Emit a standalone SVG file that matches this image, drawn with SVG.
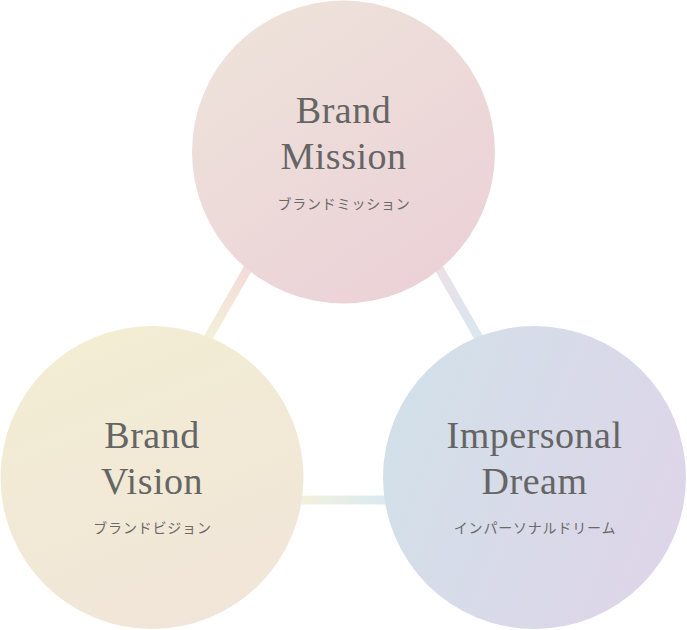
<svg xmlns="http://www.w3.org/2000/svg" width="687" height="630" viewBox="0 0 687 630">
  <defs>
    <linearGradient id="gMission" x1="0.15" y1="0" x2="0.85" y2="1">
      <stop offset="0" stop-color="#EEE3DA"/>
      <stop offset="1" stop-color="#EBD0D7"/>
    </linearGradient>
    <linearGradient id="gVision" x1="0.3" y1="0" x2="0.7" y2="1">
      <stop offset="0" stop-color="#F2EDD3"/>
      <stop offset="1" stop-color="#F1E5D9"/>
    </linearGradient>
    <linearGradient id="gDream" x1="0" y1="0.3" x2="1" y2="0.7">
      <stop offset="0" stop-color="#D2E0E9"/>
      <stop offset="1" stop-color="#DED5E8"/>
    </linearGradient>
    <linearGradient id="lLeft" gradientUnits="userSpaceOnUse" x1="252" y1="265" x2="208" y2="338">
      <stop offset="0" stop-color="#F4DAD8"/>
      <stop offset="1" stop-color="#F3F0D8"/>
    </linearGradient>
    <linearGradient id="lRight" gradientUnits="userSpaceOnUse" x1="435" y1="265" x2="480" y2="338">
      <stop offset="0" stop-color="#EBE0E6"/>
      <stop offset="1" stop-color="#DAE7EF"/>
    </linearGradient>
    <linearGradient id="lBottom" gradientUnits="userSpaceOnUse" x1="300" y1="0" x2="386" y2="0">
      <stop offset="0" stop-color="#F3F1DE"/>
      <stop offset="1" stop-color="#DAE9F1"/>
    </linearGradient>
  </defs>
  <style>
    .ttl { font-family: "Liberation Serif", "DejaVu Serif", serif; font-size: 38px; fill: #656565; text-anchor: middle; letter-spacing: 0.5px; }
    .jp { font-family: "Noto Sans CJK JP", "Noto Sans", sans-serif; font-size: 14px; font-weight: 400; fill: #6a6a6a; text-anchor: middle; letter-spacing: 0.8px; }
    .conn { fill: none; stroke-width: 9; stroke-linecap: butt; }
  </style>
  <rect width="687" height="630" fill="#FFFFFF"/>
  <g id="connectors">
    <line class="conn" x1="343.5" y1="102" x2="115" y2="500" stroke="url(#lLeft)"/>
    <line class="conn" x1="343.5" y1="102" x2="572" y2="500" stroke="url(#lRight)"/>
    <line class="conn" x1="115" y1="500" x2="572" y2="500" stroke="url(#lBottom)"/>
  </g>
  <g id="brand-mission">
    <circle cx="343.5" cy="152" r="151.5" fill="url(#gMission)"/>
    <text class="ttl" x="343.5" y="123">Brand</text>
    <text class="ttl" x="343.5" y="168.5">Mission</text>
    <text class="jp" x="344" y="208.5">ブランドミッション</text>
  </g>
  <g id="brand-vision">
    <circle cx="152" cy="477.5" r="151.5" fill="url(#gVision)"/>
    <text class="ttl" x="152" y="448">Brand</text>
    <text class="ttl" x="152" y="494">Vision</text>
    <text class="jp" x="152.5" y="533">ブランドビジョン</text>
  </g>
  <g id="impersonal-dream">
    <circle cx="534.5" cy="477.5" r="151.5" fill="url(#gDream)"/>
    <text class="ttl" x="534.5" y="448">Impersonal</text>
    <text class="ttl" x="534.5" y="494">Dream</text>
    <text class="jp" x="535" y="533">インパーソナルドリーム</text>
  </g>
</svg>
